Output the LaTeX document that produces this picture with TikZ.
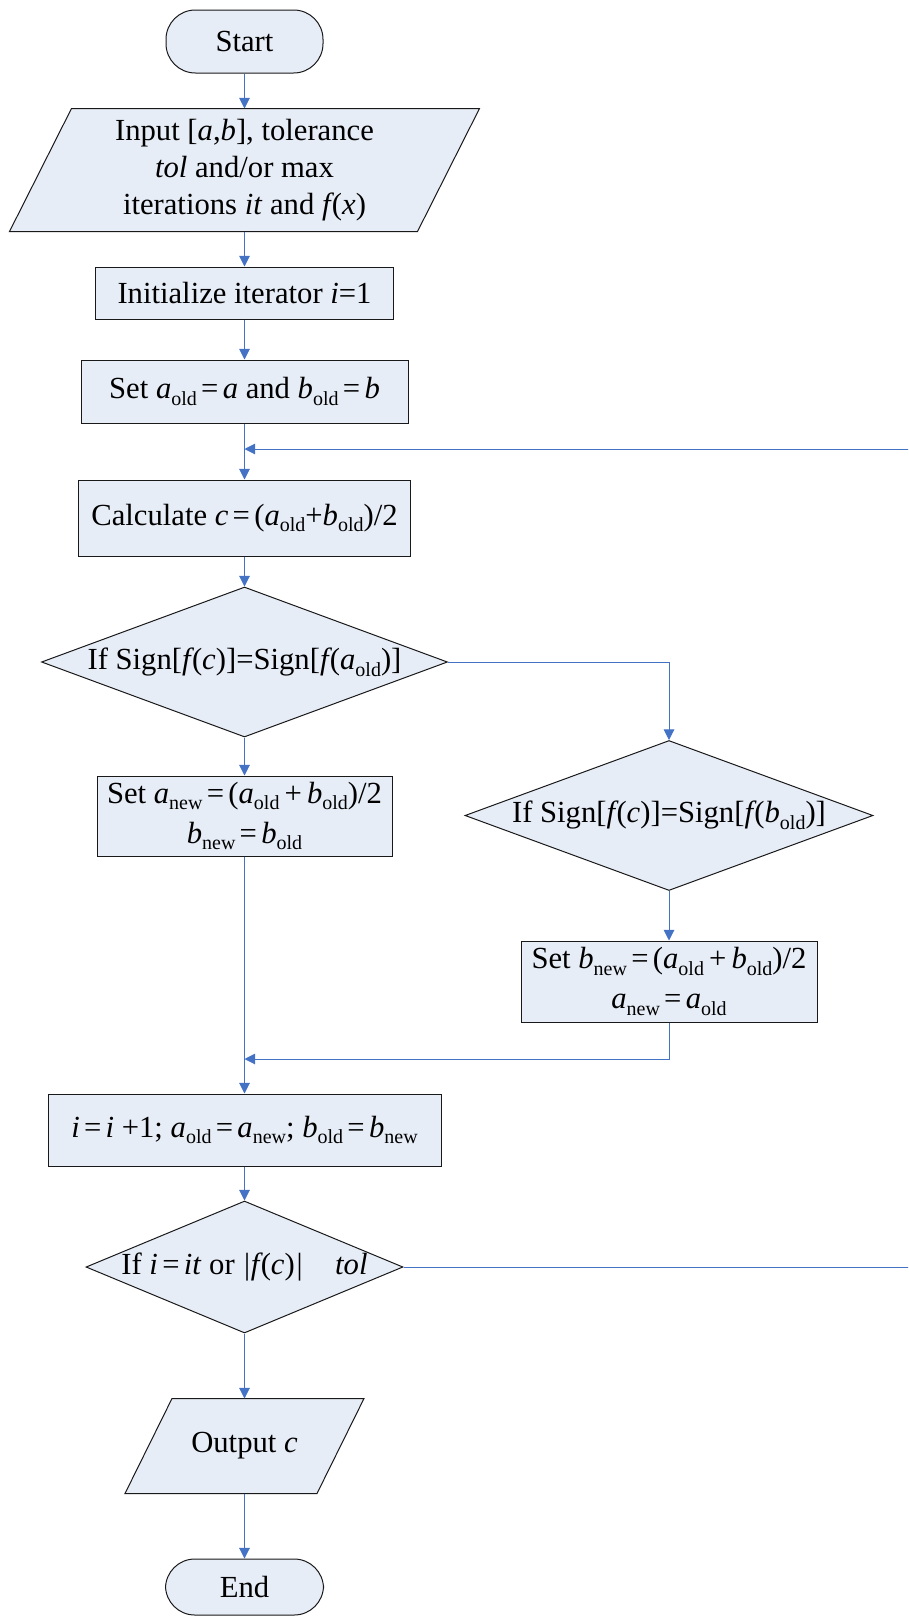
\documentclass[tikz,border=0pt]{standalone}
\usepackage{fontspec}
\setmainfont{Liberation Serif}
\usetikzlibrary{shapes.geometric,arrows.meta,backgrounds}
\definecolor{boxfill}{RGB}{231,237,247}
\definecolor{linec}{RGB}{68,114,196}
\newcommand\lo[1]{\raisebox{-0.22em}{\fontsize{15}{15}\selectfont #1}}
\newcommand\eqs{\hspace{0.14em}=\hspace{0.14em}}
\newcommand\itf{\textit{f}\kern-0.07em}
\newcommand\pxu{0.75pt}
\tikzset{
  base/.style={draw=black!90, line width=0.75pt, fill=boxfill, inner sep=0pt,
    font=\fontsize{23}{27.5}\selectfont, align=center},
  term/.style={base, rectangle, rounded corners=22pt},
  procbox/.style={base, rectangle},
  iobox/.style={base, draw=none, fill=none, rectangle},
  ioshape/.style={draw=black!90, line width=0.75pt, fill=boxfill},
  decbox/.style={base, diamond},
  arr/.style={draw=linec, line width=0.75pt, -{Triangle[length=8pt,width=8pt]}},
}
\begin{document}
\begin{tikzpicture}[x=0.75pt,y=-0.75pt]
\clip (0,0) rectangle (908,1617);
\node[term, minimum width=157*\pxu, minimum height=63*\pxu] (start) at (244.5,41.5) {Start};
\node[iobox, minimum width=407*\pxu, minimum height=122*\pxu] (in) at (244.5,170)
  {Input [\textit{a},\textit{b}], tolerance\\ \textit{tol} and/or max\\ iterations \textit{it} and \itf(\textit{x})};
\node[procbox, minimum width=298*\pxu, minimum height=52*\pxu] (init) at (244.5,293) {Initialize iterator \textit{i}=1};
\node[procbox, minimum width=327*\pxu, minimum height=63*\pxu] (set) at (244.5,391.5)
  {Set \textit{a}\lo{old}\eqs\textit{a} and \textit{b}\lo{old}\eqs\textit{b}};
\node[procbox, minimum width=332*\pxu, minimum height=76*\pxu] (calc) at (244.5,518)
  {Calculate \textit{c}\eqs(\textit{a}\lo{old}+\textit{b}\lo{old})/2};
\node[decbox, minimum width=406*\pxu, minimum height=150*\pxu] (d1) at (244.5,662)
  {\makebox[0pt]{If Sign[\itf(\textit{c})]=Sign[\itf(\textit{a}\lo{old})]}};
\node[procbox, minimum width=295*\pxu, minimum height=80*\pxu] (seta) at (244.5,816)
  {Set \textit{a}\lo{new}\eqs(\textit{a}\lo{old}\,+\,\textit{b}\lo{old})/2\\[2.5pt] \textit{b}\lo{new}\eqs\textit{b}\lo{old}};
\node[decbox, minimum width=408*\pxu, minimum height=150*\pxu] (d2) at (669,815.5)
  {\makebox[0pt]{If Sign[\itf(\textit{c})]=Sign[\itf(\textit{b}\lo{old})]}};
\node[procbox, minimum width=296*\pxu, minimum height=81*\pxu] (setb) at (669,981.5)
  {Set \textit{b}\lo{new}\eqs(\textit{a}\lo{old}\,+\,\textit{b}\lo{old})/2\\[2.5pt] \textit{a}\lo{new}\eqs\textit{a}\lo{old}};
\node[procbox, minimum width=393*\pxu, minimum height=72*\pxu] (inc) at (244.5,1130)
  {\textit{i}\eqs\textit{i} +1; \textit{a}\lo{old}\eqs\textit{a}\lo{new}; \textit{b}\lo{old}\eqs\textit{b}\lo{new}};
\node[decbox, minimum width=317*\pxu, minimum height=132*\pxu] (d3) at (244.5,1267)
  {\makebox[0pt]{If \textit{i}\eqs\textit{it} or \textit{|}\itf(\textit{c})\textit{|}\hspace{24pt}\textit{tol}}};
\node[iobox, minimum width=191*\pxu, minimum height=94*\pxu] (out) at (244.5,1446) {Output \textit{c}};
\node[term, minimum width=158*\pxu, minimum height=56*\pxu] (end) at (244.5,1587) {End};
\begin{scope}[on background layer]
\draw[ioshape] ([xshift=31*\pxu]in.north west) -- ([xshift=31*\pxu]in.north east)
  -- ([xshift=-31*\pxu]in.south east) -- ([xshift=-31*\pxu]in.south west) -- cycle;
\draw[ioshape] ([xshift=23.5*\pxu]out.north west) -- ([xshift=23.5*\pxu]out.north east)
  -- ([xshift=-23.5*\pxu]out.south east) -- ([xshift=-23.5*\pxu]out.south west) -- cycle;
\end{scope}
\coordinate (loopin) at (244.5,449);
\coordinate (merge) at (244.5,1059);
\coordinate (farright) at (940,1267);
\draw[arr] (start) -- (in);
\draw[arr] (in) -- (init);
\draw[arr] (init) -- (set);
\draw[arr] (set) -- (calc);
\draw[arr] (calc) -- (d1);
\draw[arr] (d1) -- (seta);
\draw[arr] (d1.east) -| (d2.north);
\draw[arr] (d2) -- (setb);
\draw[arr] (seta) -- (inc);
\draw[arr] (setb.south) |- (merge);
\draw[arr] (inc) -- (d3);
\draw[arr] (d3.east) -- (farright) |- (loopin);
\draw[arr] (d3) -- (out);
\draw[arr] (out) -- (end);
\end{tikzpicture}
\end{document}
